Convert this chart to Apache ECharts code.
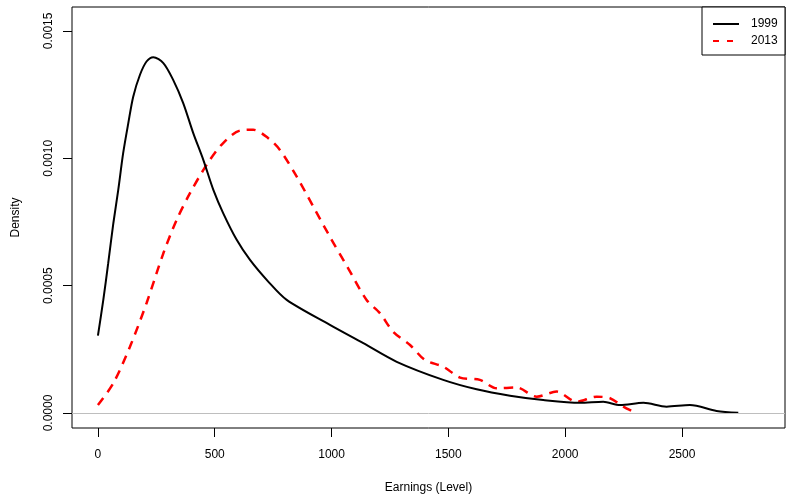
<!DOCTYPE html>
<html><head><meta charset="utf-8">
<script src="https://cdn.jsdelivr.net/npm/echarts@6/dist/echarts.min.js"></script>
<style>html,body{margin:0;padding:0;background:#fff}#c{width:786px;height:496px}</style>
</head><body><div id="c"></div>
<script>
var x1999 = [0,23,44,66,87,108,130,151,180,208,237,280,322,365,408,451,494,536,594,651,729,808,993,1136,1279,1478,1621,1764,1906,2063,2163,2235,2335,2434,2534,2648,2741];
var y1999 = [0.000304,0.000444,0.000588,0.000745,0.000876,0.00102,0.001138,0.001242,0.001328,0.00138,0.001397,0.001374,0.001308,0.001217,0.001099,0.000994,0.000876,0.000785,0.00068,0.000601,0.000516,0.000444,0.000346,0.000274,0.000201,0.00013,0.000093,0.000068,0.000051,0.00004,0.000044,0.000031,0.00004,0.000025,0.000031,0.000008,0.000001];
var x2013 = [0,66,137,208,280,337,394,465,529,608,665,729,779,851,922,993,1070,1150,1207,1264,1336,1400,1478,1550,1635,1707,1792,1878,1963,2049,2135,2192,2249,2292];
var y2013 = [0.0000314,0.000117,0.00026,0.000431,0.000627,0.000758,0.000863,0.000974,0.001053,0.001109,0.001112,0.001079,0.001033,0.000928,0.00081,0.000692,0.00057,0.000444,0.000392,0.000319,0.000267,0.000208,0.000182,0.000139,0.00013,0.000097,0.0001,0.000064,0.000084,0.000044,0.000064,0.000058,0.000025,0.000005];
var xTicks = [0,500,1000,1500,2000,2500];
var yTicks = [0,0.0005,0.001,0.0015];
var seriesNames = ['1999','2013'];

function pairs(xs, ys){ return xs.map(function(x,i){return [x, ys[i]];}); }
var font = 'Liberation Sans, Arial, sans-serif';
var chart = echarts.init(document.getElementById('c'));
chart.setOption({
  animation:false,
  backgroundColor:'#fff',
  grid:{left:72,right:1,top:7,bottom:68,show:true,borderColor:'#000',borderWidth:1,backgroundColor:'transparent',
    containLabel:false,outerBoundsMode:'none'},
  xAxis:{type:'value',min:-111,max:2941,
    name:'Earnings (Level)',nameLocation:'middle',nameGap:54,
    nameTextStyle:{fontFamily:font,fontSize:12,color:'#000'},
    axisLine:{show:false,onZero:false},splitLine:{show:false},
    axisTick:{show:true,inside:false,length:9,customValues:xTicks,lineStyle:{color:'#000'}},
    axisLabel:{customValues:xTicks,margin:21,fontFamily:font,fontSize:12,color:'#000',
      formatter:function(v){return String(v);}}
  },
  yAxis:{type:'value',min:-0.0000589,max:0.001594,
    name:'Density',nameLocation:'middle',nameGap:50,nameRotate:90,
    nameTextStyle:{fontFamily:font,fontSize:12,color:'#000'},
    axisLine:{show:false,onZero:false},splitLine:{show:false},
    axisTick:{show:true,inside:false,length:9,customValues:yTicks,lineStyle:{color:'#000'}},
    axisLabel:{customValues:yTicks,rotate:90,margin:17,fontFamily:font,fontSize:12,color:'#000',
      formatter:function(v){return v.toFixed(4);}}
  },
  graphic:[
    {type:'rect',shape:{x:702,y:7,width:83,height:48},style:{fill:'#fff',stroke:'#000',lineWidth:1},z:10},
    {type:'line',shape:{x1:713,y1:24,x2:739,y2:24},style:{stroke:'#000',lineWidth:2},z:11},
    {type:'line',shape:{x1:713,y1:41,x2:739,y2:41},style:{stroke:'#ff0000',lineWidth:2,lineDash:[6,8]},z:11},
    {type:'text',x:751,y:24,style:{text:seriesNames[0],font:'12px '+font,fill:'#000',textVerticalAlign:'middle'},z:11},
    {type:'text',x:751,y:41,style:{text:seriesNames[1],font:'12px '+font,fill:'#000',textVerticalAlign:'middle'},z:11}
  ],
  series:[
    {name:seriesNames[0],type:'line',data:pairs(x1999,y1999),smooth:0.3,symbol:'none',
     lineStyle:{color:'#000',width:2},itemStyle:{color:'#000'},
     markLine:{silent:true,symbol:'none',label:{show:false},lineStyle:{color:'#bebebe',width:1,type:'solid'},data:[{yAxis:0}]},
     z:3},
    {name:seriesNames[1],type:'line',data:pairs(x2013,y2013),smooth:0.3,symbol:'none',
     lineStyle:{color:'#ff0000',width:2.5,type:[9,7]},itemStyle:{color:'#ff0000'},z:2}
  ]
});
</script></body></html>
